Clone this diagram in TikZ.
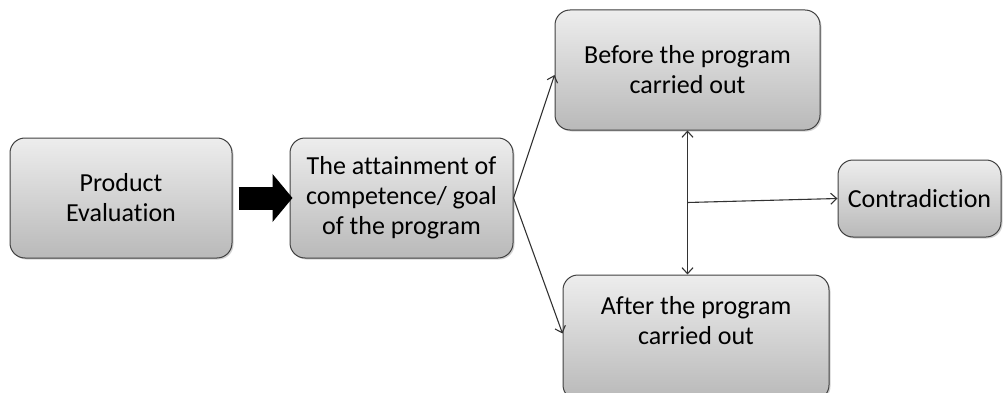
\documentclass[tikz,border=0pt]{standalone}
\usepackage{fontspec}
\setmainfont{Carlito}[Ligatures={NoCommon}]
\usetikzlibrary{arrows.meta, calc, shadows}

\begin{document}
\begin{tikzpicture}[x=1pt, y=-1pt,
        >={Straight Barb[length=6pt,width=11pt]},
        box/.style={draw=black!75, line width=1pt, rounded corners=15pt,
            top color=gray!14, bottom color=gray!55, align=center,
            font=\fontsize{26}{30}\selectfont, inner sep=0pt,
            drop shadow={shadow xshift=1.5pt, shadow yshift=-1.5pt, opacity=0.35}},
        link/.style={draw=black!80, line width=1.1pt},
        bigarrow/.style={line width=23pt, -{Triangle[length=20pt,width=47pt]}}]
        \useasboundingbox (0,0) rectangle (1003,393);

        \coordinate (p) at (121, 198);
        \coordinate (g) at (401.5, 198);
        \coordinate (b) at (687.5, 70);
        \coordinate (a) at (696, 337.5);
        \coordinate (c) at (919.5, 198.5);

        \node[box, minimum width=222pt, minimum height=120pt] (prod) at (p) {Product\\Evaluation};
        \node[box, minimum width=223pt, minimum height=120pt] (goal) at (g) {The attainment of\\competence/ goal\\of the program};
        \node[box, minimum width=265pt, minimum height=120pt] (before) at (b) {Before the program\\carried out};
        \node[box, minimum width=266pt, minimum height=125pt, text depth=35pt] (after) at (a) {After the program\\carried out};
        \node[box, minimum width=163pt, minimum height=77pt] (contra) at (c) {Contradiction};

        % block arrow between the first two boxes
        \draw[bigarrow, shorten <=6pt, shorten >=-3pt] (prod.east) -- (goal.west);

        \draw[link, ->] (goal.east) -- ($(before.west)+(0,5)$);
        \draw[link, ->] (goal.east) -- ($(after.west)+(0,-4)$);
        \draw[link, <->] (before.south) -- (before.south |- after.north);
        \coordinate (mid) at ($(before.south)!0.5!(before.south |- after.north)$);
        \draw[link, ->] (mid) -- (contra.west);

    \end{tikzpicture}
\end{document}
